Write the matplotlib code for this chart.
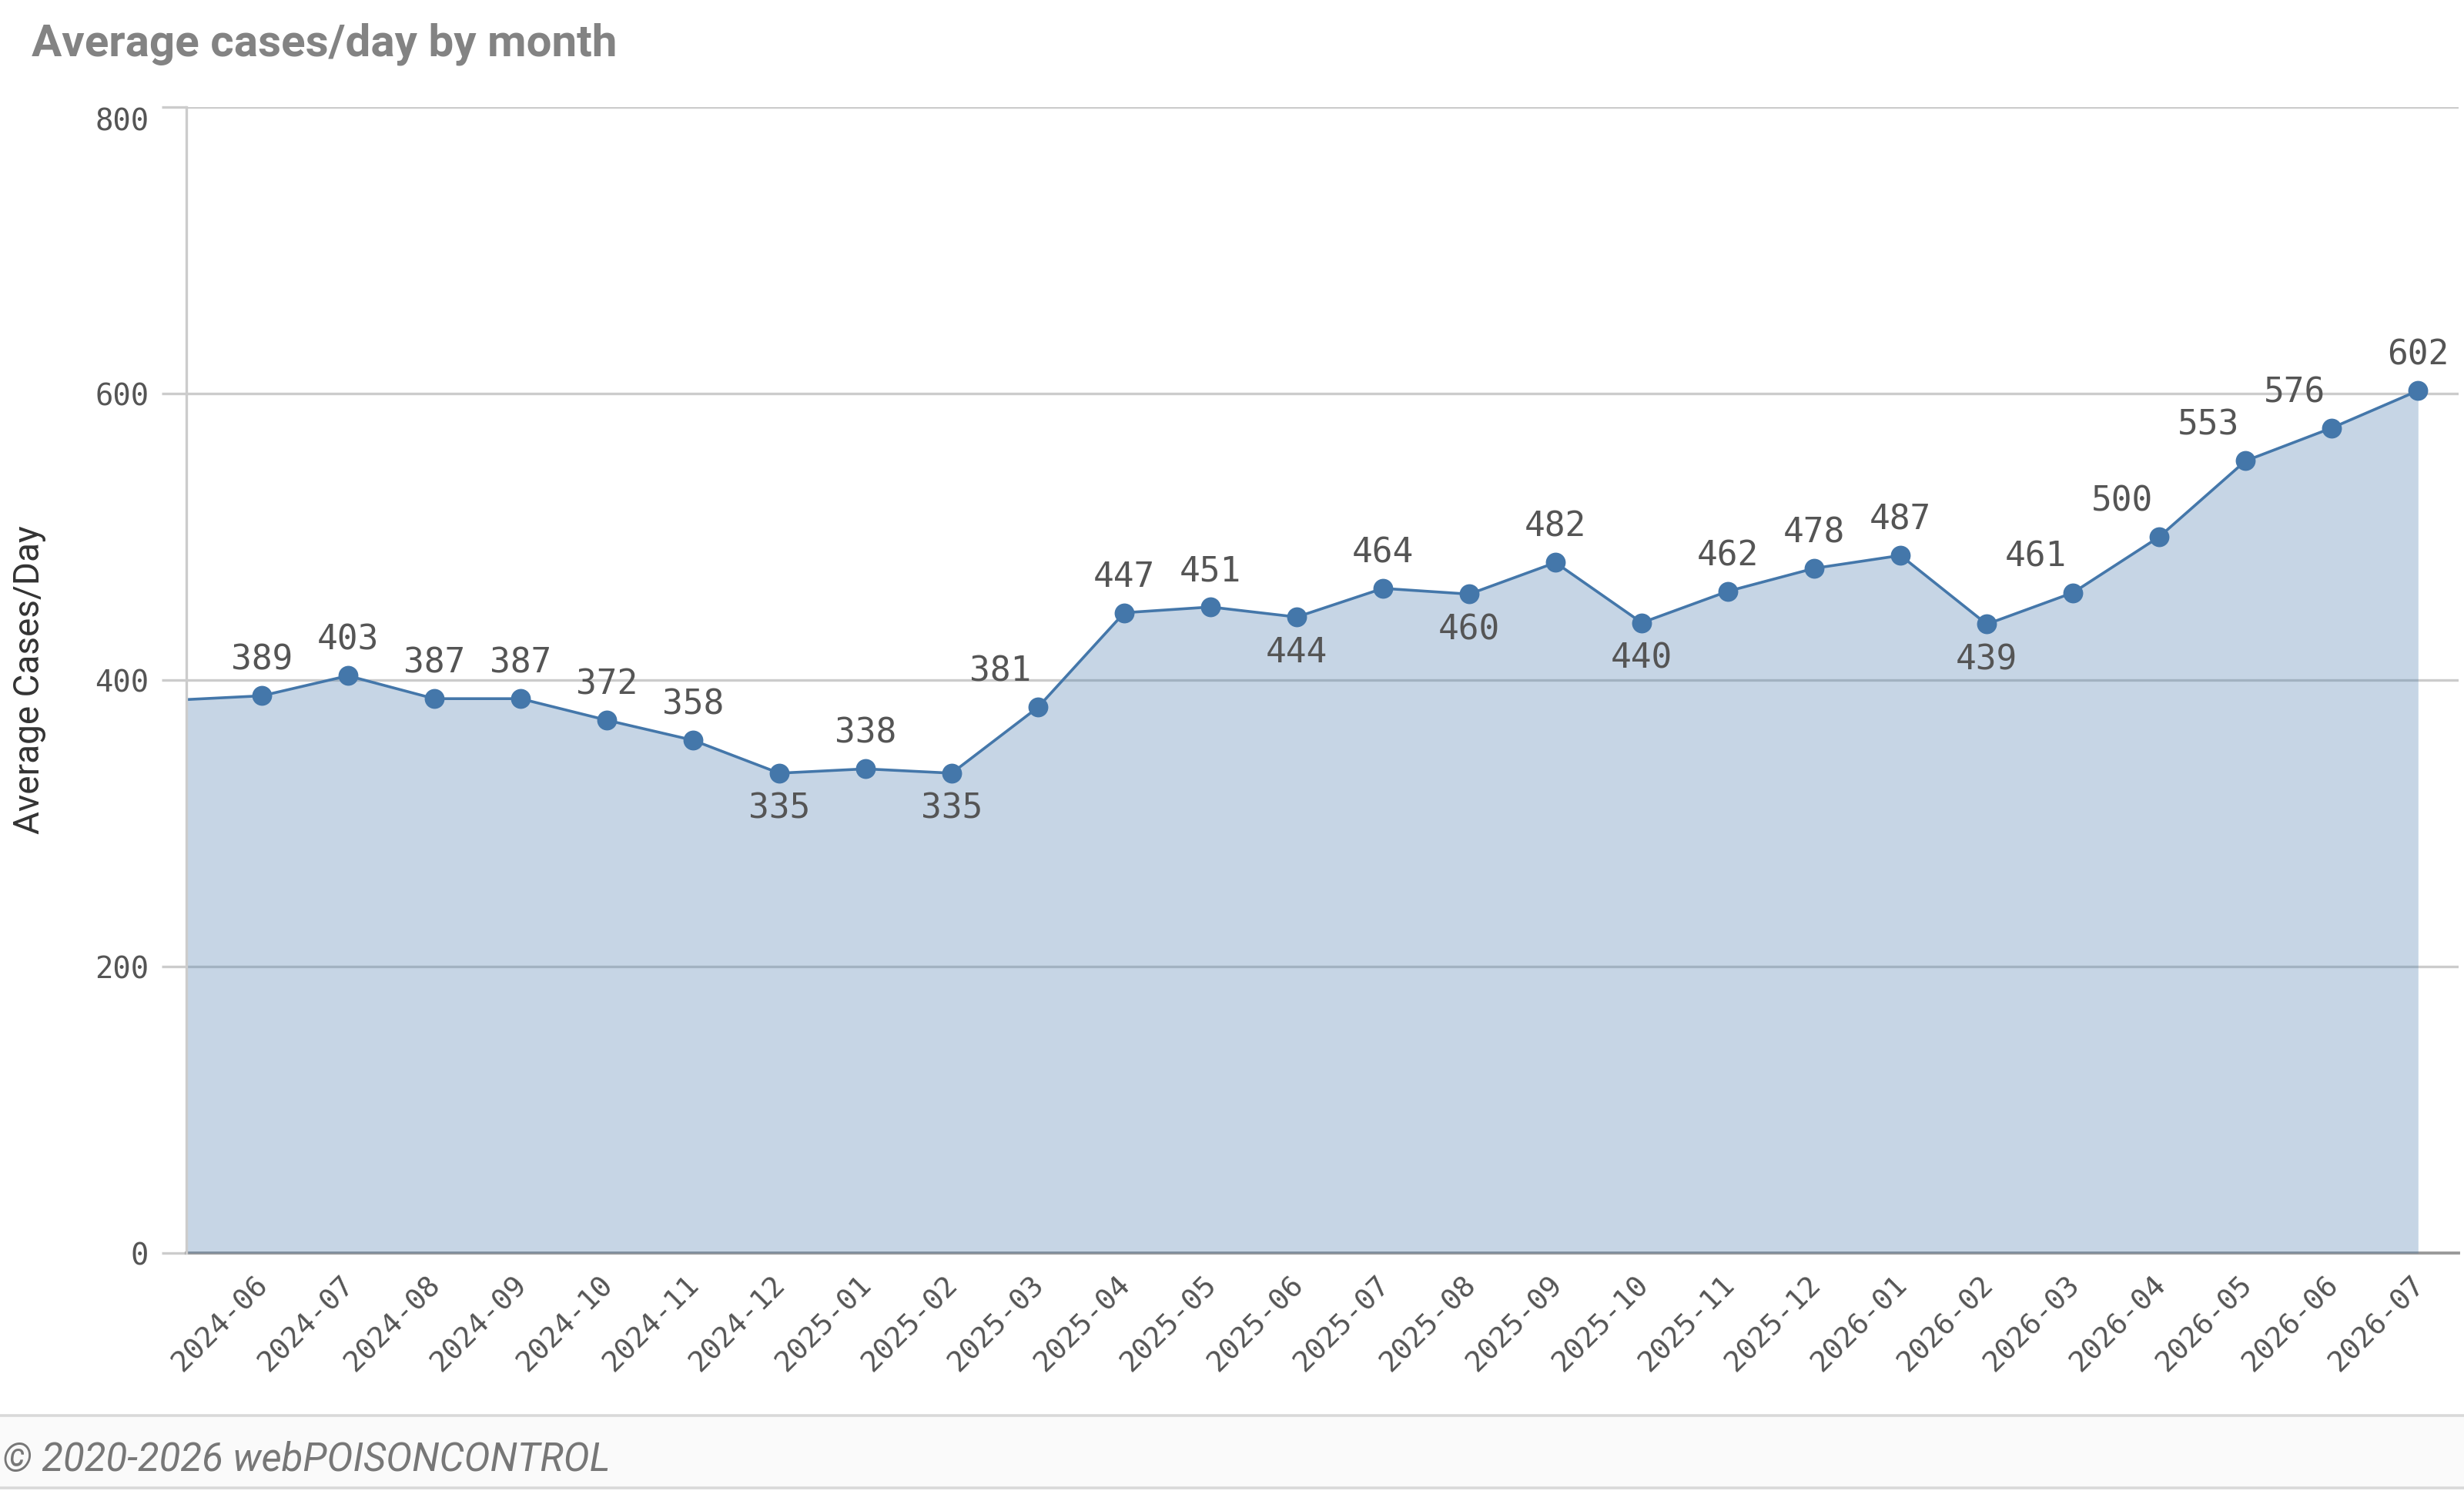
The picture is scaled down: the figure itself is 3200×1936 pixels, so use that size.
import numpy as np
import matplotlib
matplotlib.use('Agg')
import matplotlib.pyplot as plt
import matplotlib.transforms as mtrans
from matplotlib.patches import Rectangle
from matplotlib.lines import Line2D

# monthly averages (2024-05 only shows as the clipped start of the line)
months = ['2024-05', '2024-06', '2024-07', '2024-08', '2024-09', '2024-10',
          '2024-11', '2024-12', '2025-01', '2025-02', '2025-03', '2025-04',
          '2025-05', '2025-06', '2025-07', '2025-08', '2025-09', '2025-10',
          '2025-11', '2025-12', '2026-01', '2026-02', '2026-03', '2026-04',
          '2026-05', '2026-06', '2026-07']
cases = [386, 389, 403, 387, 387, 372, 358, 335, 338, 335, 381, 447, 451,
         444, 464, 460, 482, 440, 462, 478, 487, 439, 461, 500, 553, 576, 602]
yticks = [0, 200, 400, 600, 800]

# where the value labels go
below = ['2024-12', '2025-02', '2025-06', '2025-08', '2025-10', '2026-02']
shifted = ['2025-03', '2026-03', '2026-04', '2026-05', '2026-06']

blue = '#4477aa'
mono = 'DejaVu Sans Mono'

fig = plt.figure(figsize=(16, 9.68), dpi=200)
ax = fig.add_axes([0.0756, 0.1596, 0.9222, 0.7686])

x = np.arange(len(months))
ax.fill_between(x, 0, cases, color=blue, alpha=0.3, lw=0, zorder=3)
ax.plot(x, cases, color=blue, lw=1.3, marker='o', ms=8.3, zorder=4)

for xi, m, v in zip(x, months, cases):
    if m == months[0]:
        continue
    if m in below:
        off = (0, -16.6)
    elif m in shifted:
        off = (-17.5, 16.6)
    else:
        off = (0, 16.6)
    ax.annotate(str(v), (xi, v), xytext=off, textcoords='offset points',
                ha='center', va='center', fontsize=16, family=mono,
                color='#555555', zorder=6)

ax.set_xlim(0.125, 26.47)
ax.set_ylim(0, 800)
ax.set_yticks(yticks)
ax.set_yticklabels([str(t) for t in yticks], family=mono, fontsize=14,
                   color='#555555')
ax.get_yticklabels()[-1].set_va('top')
ax.set_xticks(x[1:])
ax.set_xticklabels(months[1:], rotation=45, ha='right', va='center_baseline',
                   rotation_mode='anchor', family=mono, fontsize=13.6,
                   color='#555555')
shift = mtrans.ScaledTranslation(2 / 72, 0, fig.dpi_scale_trans)
for lab in ax.get_xticklabels():
    lab.set_transform(lab.get_transform() + shift)
ax.tick_params(axis='x', length=0, pad=12)
ax.tick_params(axis='y', length=11.5, width=1.2, color='#cccccc', pad=6)

ax.set_axisbelow(True)
ax.grid(axis='y', color='#cccccc', lw=1.2)
for s in ['top', 'right']:
    ax.spines[s].set_visible(False)
ax.spines['left'].set_color('#cccccc')
ax.spines['left'].set_linewidth(1.2)
ax.spines['left'].set_zorder(5)
ax.spines['bottom'].set_color('#999999')
ax.spines['bottom'].set_linewidth(1.4)

fig.text(0.012, 0.544, 'Average Cases/Day', rotation=90, ha='center',
         va='center', fontsize=16.5, family='Roboto', color='#333333')

fig.text(0.0128, 0.9628, 'Average cases/day by month', ha='left',
         va='baseline', fontsize=21, fontweight='bold', family='Roboto',
         color='#838383')

# footer band
fig.patches.append(Rectangle((0, 0.0021), 1, 0.0485, transform=fig.transFigure,
                             facecolor='#fafafa', edgecolor='none', zorder=0))
for yy in [0.0506, 0.0021]:
    fig.lines.append(Line2D([0, 1], [yy, yy], transform=fig.transFigure,
                            color='#d9d9d9', lw=1.3))
fig.text(0.001, 0.0207, '\u00a9 2020-2026 webPOISONCONTROL', ha='left',
         va='center', fontsize=18.3, style='italic', family='Roboto',
         color='#777777')

fig.savefig('out.png', dpi=200)
